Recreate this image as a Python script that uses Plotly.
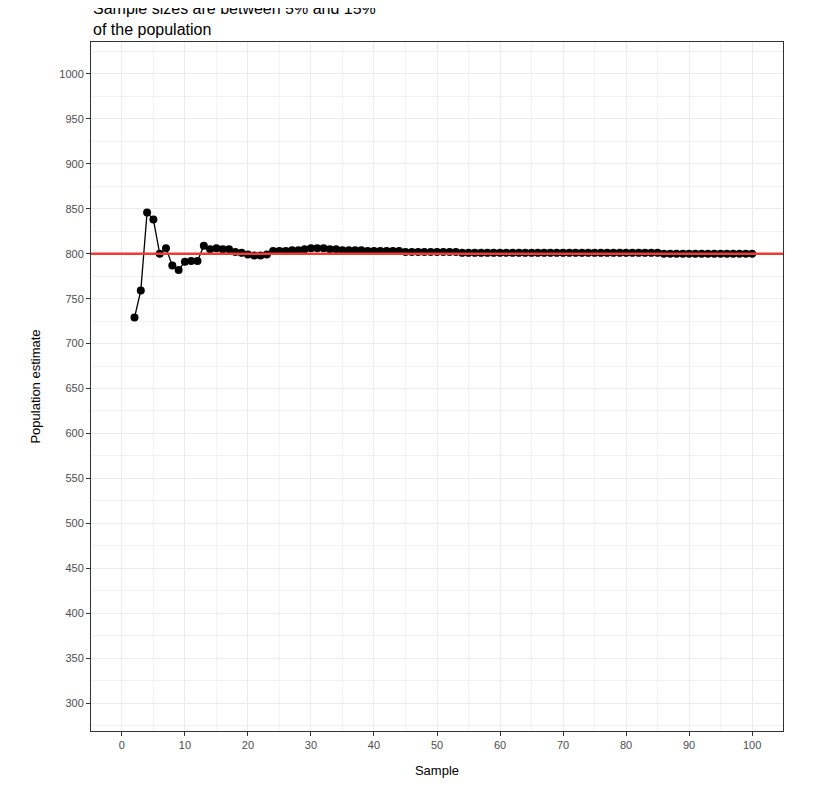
import plotly.graph_objects as go

sample = list(range(2, 101))
estimate = [729, 759, 846, 838, 800, 806, 787, 782, 791, 792,
            792, 809, 805, 806, 805, 805, 802, 801, 799, 798,
            798, 799, 803, 803, 803, 804, 804, 805, 806, 806,
            806, 805, 805, 804, 804, 804, 804, 803, 803, 803,
            803, 803, 803, 802, 802, 802, 802, 802, 802, 802,
            802, 802, 801, 801, 801, 801, 801, 801, 801, 801,
            801, 801, 801, 801, 801, 801, 801, 801, 801, 801,
            801, 801, 801, 801, 801, 801, 801, 801, 801, 801,
            801, 801, 801, 801, 800, 800, 800, 800, 800, 800,
            800, 800, 800, 800, 800, 800, 800, 800, 800]
true_pop = 800

fig = go.Figure()
fig.add_trace(go.Scatter(x=sample, y=estimate, mode='lines+markers',
                         line=dict(color='black', width=1.3),
                         marker=dict(color='black', size=8)))
fig.add_hline(y=true_pop, line=dict(color='#ee3b33', width=2.5))

grid = dict(showgrid=True, gridcolor='#ebebeb', gridwidth=1.2,
            minor=dict(showgrid=True, gridcolor='#f3f3f3', gridwidth=0.6),
            zeroline=False, showline=True, linecolor='#333333', mirror=True,
            ticks='outside', ticklen=4, tickcolor='#333333',
            tickfont=dict(size=11, color='#4d4d4d'))

fig.update_layout(
    width=830, height=787, plot_bgcolor='white', paper_bgcolor='white',
    margin=dict(l=83, r=55, t=34, b=64),
    showlegend=False,
    font=dict(family='Liberation Sans, Arial', color='black'),
    xaxis=dict(range=[-4.9, 104.9], dtick=10, tick0=0,
               title=dict(text='Sample', font=dict(size=13)),
               **grid),
    yaxis=dict(range=[268.9, 1035.6], dtick=50, tick0=0,
               title=dict(text='Population estimate', font=dict(size=13)),
               **grid),
)
fig.add_annotation(text='Sample sizes are between 5% and 15%<br>of the population',
                   xref='paper', yref='paper', x=0, y=1, xanchor='left',
                   yanchor='bottom', align='left', showarrow=False, yshift=2,
                   font=dict(size=16, color='black'))
fig.update_xaxes(minor=dict(dtick=5))
fig.update_yaxes(minor=dict(dtick=25))
fig.write_html("out.html")
